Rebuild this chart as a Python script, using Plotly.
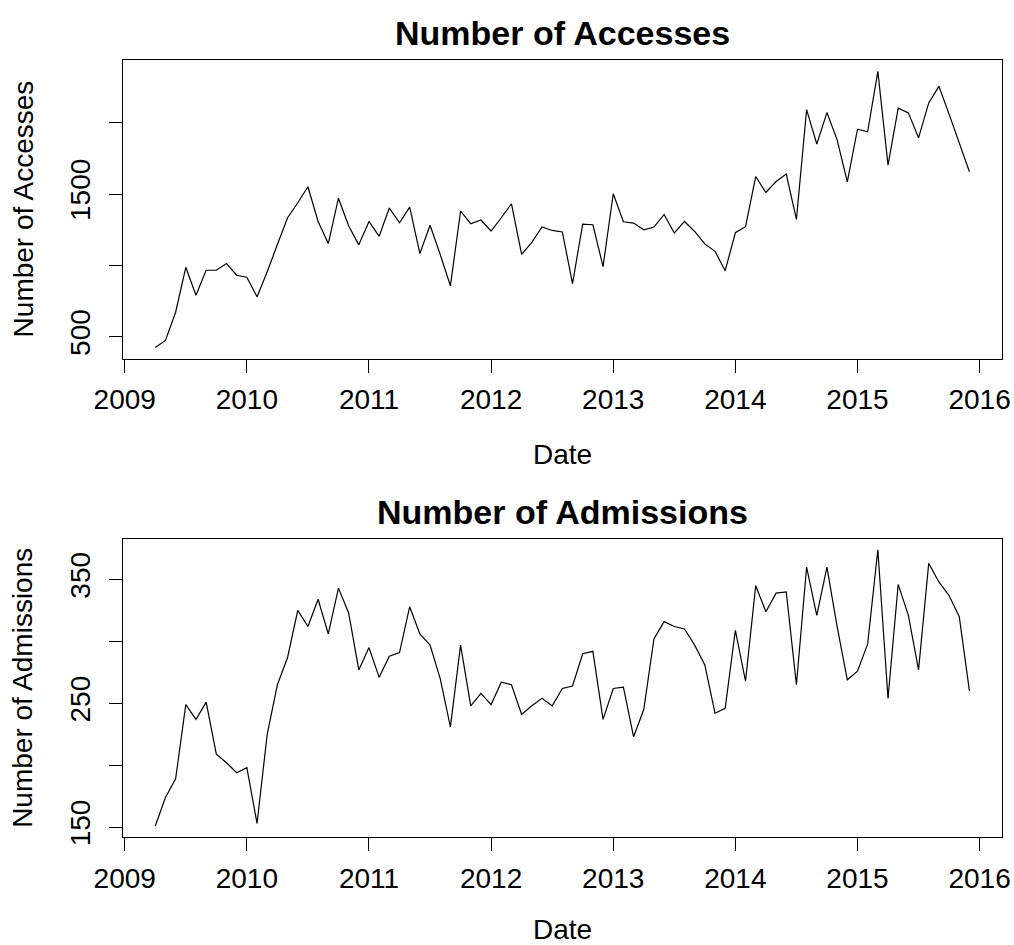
import pandas as pd
import plotly.graph_objects as go

# ---- data ----
months = pd.date_range("2009-04-01", "2015-12-01", freq="MS")
x_year = [d.year + (d.month - 1) / 12 for d in months]

accesses = [425, 474, 672, 987, 791, 966, 966, 1013, 931, 917,
            780, 955, 1146, 1334, 1439, 1551, 1308, 1153, 1471, 1278,
            1144, 1308, 1204, 1402, 1299, 1409, 1083, 1281, 1076, 857,
            1381, 1292, 1318, 1241, 1334, 1432, 1078, 1162, 1269, 1245,
            1234, 873, 1290, 1285, 992, 1502, 1306, 1297, 1250, 1269,
            1357, 1227, 1308, 1238, 1151, 1099, 963, 1229, 1271, 1623,
            1511, 1588, 1640, 1322, 2092, 1851, 2071, 1880, 1585, 1955,
            1936, 2360, 1703, 2102, 2069, 1894, 2139, 2255, 2060, 1864, 1656]

admissions = [151, 174, 189, 249, 237, 251, 209, 202, 194, 198,
              153, 225, 265, 287, 325, 312, 334, 306, 343, 323,
              277, 295, 271, 288, 291, 328, 306, 297, 270, 231,
              297, 248, 258, 249, 267, 265, 241, 248, 254, 248,
              262, 264, 290, 292, 237, 262, 263, 223, 245, 302,
              316, 312, 310, 297, 281, 242, 246, 309, 268, 345,
              324, 339, 340, 265, 360, 321, 360, 312, 269, 276,
              298, 374, 254, 346, 321, 277, 363, 348, 337, 320, 260]

year_ticks = [2009, 2010, 2011, 2012, 2013, 2014, 2015, 2016]
acc_ticks = [500, 1000, 1500, 2000]
acc_ticktext = ["500", "", "1500", ""]
adm_ticks = [150, 200, 250, 300, 350]
adm_ticktext = ["150", "", "250", "", "350"]

titles = ["Number of Accesses", "Number of Admissions"]
ylabels = ["Number of Accesses", "Number of Admissions"]
xlabel = "Date"

# ---- layout helpers ----
W, H = 1014, 945
FONT = "Liberation Sans, Arial, Helvetica, sans-serif"


def pad_range(v):
    lo, hi = min(v), max(v)
    d = (hi - lo) * 0.04
    return [lo - d, hi + d]


def px(p):
    return p / W


def py(p):
    return 1 - p / H


box_l, box_r = 122.7, 1002.0
top_box = (60.3, 358.5)
bot_box = (538.7, 837.0)

fig = go.Figure()
fig.add_trace(go.Scatter(x=x_year, y=accesses, mode="lines",
                         line=dict(color="black", width=1.2),
                         xaxis="x", yaxis="y", showlegend=False, hoverinfo="skip"))
fig.add_trace(go.Scatter(x=x_year, y=admissions, mode="lines",
                         line=dict(color="black", width=1.2),
                         xaxis="x2", yaxis="y2", showlegend=False, hoverinfo="skip"))

common = dict(showline=True, mirror=True, linecolor="black", linewidth=1,
              ticks="outside", ticklen=13, tickwidth=1, tickcolor="black",
              showgrid=False, zeroline=False,
              tickfont=dict(family=FONT, size=28, color="black"))

xr = pad_range(x_year)
fig.update_layout(
    width=W, height=H,
    margin=dict(l=0, r=0, t=0, b=0, autoexpand=False),
    paper_bgcolor="white", plot_bgcolor="white",
    xaxis=dict(domain=[px(box_l), px(box_r)], range=xr, anchor="y",
               tickvals=year_ticks, ticklabelstandoff=3, **common),
    yaxis=dict(domain=[py(top_box[1]), py(top_box[0])], range=pad_range(accesses),
               anchor="x", tickvals=acc_ticks, ticktext=acc_ticktext,
               tickangle=-90, ticklabelstandoff=8, **common),
    xaxis2=dict(domain=[px(box_l), px(box_r)], range=xr, anchor="y2",
                tickvals=year_ticks, ticklabelstandoff=3, **common),
    yaxis2=dict(domain=[py(bot_box[1]), py(bot_box[0])], range=pad_range(admissions),
                anchor="x2", tickvals=adm_ticks, ticktext=adm_ticktext,
                tickangle=-90, ticklabelstandoff=8, **common),
)

cx = px((box_l + box_r) / 2)
ann = []
for box, ttl, yl, title_y, date_y in [
        (top_box, titles[0], ylabels[0], 32.5, 455),
        (bot_box, titles[1], ylabels[1], 512, 929)]:
    ann.append(dict(text="<b>%s</b>" % ttl, x=cx, y=py(title_y), xref="paper", yref="paper",
                    showarrow=False, xanchor="center", yanchor="middle",
                    font=dict(family=FONT, size=34, color="black")))
    ann.append(dict(text=yl, x=px(23), y=py((box[0] + box[1]) / 2), xref="paper", yref="paper",
                    showarrow=False, xanchor="center", yanchor="middle", textangle=-90,
                    font=dict(family=FONT, size=28, color="black")))
    ann.append(dict(text=xlabel, x=cx, y=py(date_y), xref="paper", yref="paper",
                    showarrow=False, xanchor="center", yanchor="middle",
                    font=dict(family=FONT, size=28, color="black")))
fig.update_layout(annotations=ann)

fig.write_html("out.html", config={"displayModeBar": False},
               post_script="document.body.style.margin='0';document.body.style.overflow='hidden';")
